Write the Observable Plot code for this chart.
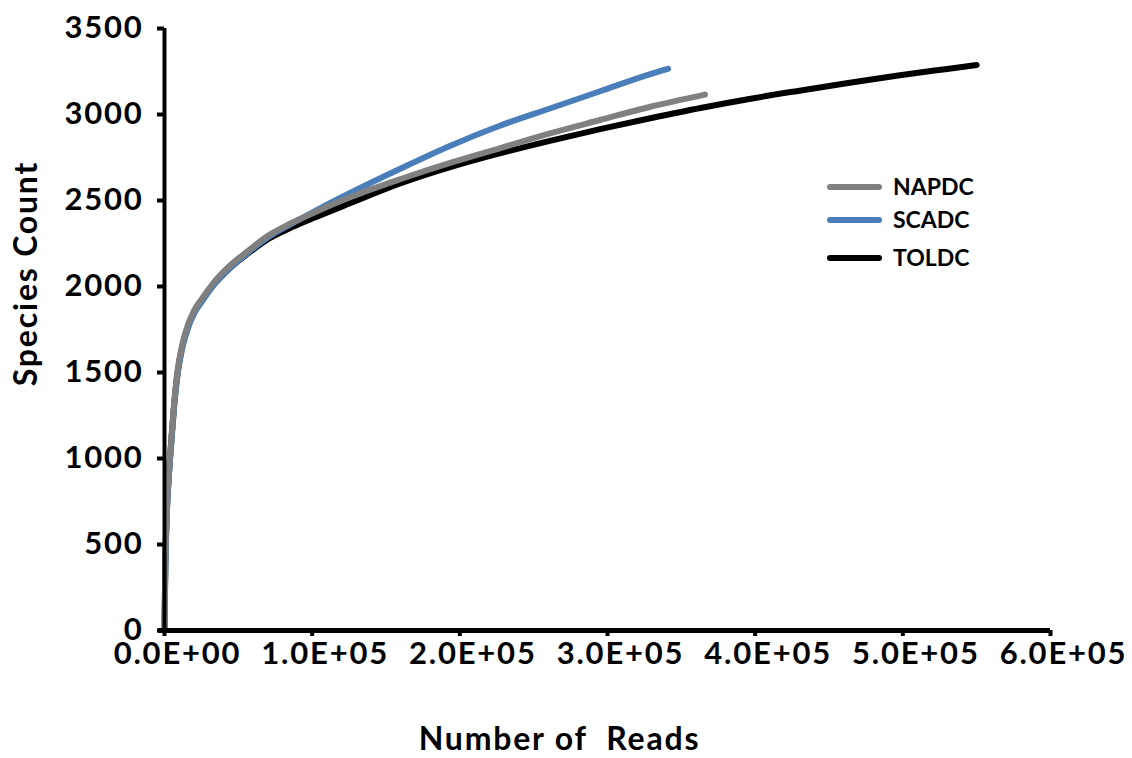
<!DOCTYPE html>
<html>
<head>
<meta charset="utf-8">
<script src="https://cdn.jsdelivr.net/npm/d3@7"></script>
<script src="https://cdn.jsdelivr.net/npm/@observablehq/plot@0.6"></script>
<style>
  html, body { margin: 0; padding: 0; background: #fff; }
  #wrap { position: relative; width: 1132px; height: 758px; font-family: Lato, "Open Sans", sans-serif; }
  svg text { white-space: pre; letter-spacing: 1.8px; }
  .leg { position: absolute; left: 0; top: 0; }
  .leg .row { position: absolute; left: 827px; height: 24px; }
  .leg .sw { position: absolute; left: 0; top: 9px; width: 55px; height: 6px; border-radius: 3px; }
  .leg .lb { position: absolute; left: 66px; top: -1px; font-size: 23px; font-weight: 700; line-height: 24px; color: #000; white-space: nowrap; }
</style>
</head>
<body>
<div id="wrap"></div>
<script>
// ---- data ----
const seriesNames = ["NAPDC", "SCADC", "TOLDC"];
const seriesColors = ["#808080", "#4a7ebb", "#000000"];

const napdcReads   = [0, 500, 1500, 3000, 4500, 6500, 9000, 12000, 16000, 20000, 25000, 34000, 43500, 57000, 70000, 85000, 100000, 126000, 160000, 194000, 227500, 261000, 295000, 329000, 366000];
const napdcSpecies = [0, 350, 680, 920, 1100, 1320, 1520, 1660, 1780, 1860, 1925, 2030, 2115, 2210, 2295, 2365, 2425, 2520, 2625, 2720, 2805, 2890, 2968, 3045, 3116];

const scadcReads   = [0, 500, 1500, 3000, 4500, 6500, 9000, 12000, 16000, 20000, 25000, 34000, 43500, 57000, 70000, 85000, 100000, 126000, 160000, 194000, 227500, 261000, 295000, 329000, 341000];
const scadcSpecies = [0, 330, 655, 895, 1075, 1295, 1495, 1638, 1760, 1842, 1908, 2015, 2100, 2200, 2285, 2360, 2430, 2545, 2686, 2820, 2936, 3035, 3135, 3235, 3265];

const toldcReads   = [0, 500, 1500, 3000, 4500, 6500, 9000, 12000, 16000, 20000, 25000, 34000, 43500, 57000, 70000, 85000, 100000, 126000, 160000, 194000, 227500, 261000, 295000, 329000, 363000, 397000, 431000, 464000, 498000, 530000, 550000];
const toldcSpecies = [0, 345, 672, 910, 1090, 1310, 1510, 1650, 1770, 1850, 1915, 2018, 2102, 2195, 2275, 2340, 2395, 2485, 2600, 2695, 2775, 2847, 2915, 2978, 3038, 3092, 3140, 3185, 3228, 3265, 3288];

const xTicks = [0, 100000, 200000, 300000, 400000, 500000, 600000];
const xTickLabels = ["0.0E+00", "1.0E+05", "2.0E+05", "3.0E+05", "4.0E+05", "5.0E+05", "6.0E+05"];
const yTicks = [0, 500, 1000, 1500, 2000, 2500, 3000, 3500];

const xTitle = "Number of  Reads";
const yTitle = "Species Count";

// ---- build tables ----
const mk = (name, xs, ys) => xs.map((x, i) => ({series: name, reads: x, species: ys[i]}));
const napdc = mk("NAPDC", napdcReads, napdcSpecies);
const scadc = mk("SCADC", scadcReads, scadcSpecies);
const toldc = mk("TOLDC", toldcReads, toldcSpecies);
const xTickRows = xTicks.map((v, i) => ({v, label: xTickLabels[i]}));

const lineOpts = (color) => ({x: "reads", y: "species", stroke: color, strokeWidth: 6, curve: "monotone-x", strokeLinecap: "round", strokeLinejoin: "round"});

const chart = Plot.plot({
  width: 1132,
  height: 758,
  marginLeft: 164,
  marginRight: 82,
  marginTop: 28,
  marginBottom: 128,
  style: {fontFamily: "Lato, 'Open Sans', sans-serif", fontWeight: "700", color: "#000", background: "#fff", overflow: "visible"},
  x: {domain: [0, 600000]},
  y: {domain: [0, 3500]},
  marks: [
    Plot.line(toldc, lineOpts(seriesColors[2])),
    Plot.line(scadc, lineOpts(seriesColors[1])),
    Plot.line(napdc, lineOpts(seriesColors[0])),
    Plot.ruleY([0], {strokeWidth: 5, stroke: "#000", x1: -4000, x2: 600000}),
    Plot.ruleX([0], {strokeWidth: 4, stroke: "#000"}),
    Plot.axisX({ticks: xTicks, tickSize: 6, strokeWidth: 4, text: null, label: null}),
    Plot.text(xTickRows, {x: "v", text: "label", frameAnchor: "bottom", lineAnchor: "top", textAnchor: "middle", dy: 11, dx: 13, fontSize: 31, fontWeight: 700, fill: "#000"}),
    Plot.axisY({ticks: yTicks, tickSize: 7, tickPadding: 14, strokeWidth: 4, tickFormat: d => String(d), fontSize: 31, fontWeight: 700, label: null}),
    Plot.text([yTitle], {frameAnchor: "left", textAnchor: "middle", lineAnchor: "middle", dx: -138, dy: -56, rotate: -90, fontSize: 32, fontWeight: 700, fill: "#000", text: d => d}),
    Plot.text([xTitle], {frameAnchor: "bottom", textAnchor: "middle", lineAnchor: "middle", dx: -48, dy: 109, fontSize: 32, fontWeight: 700, fill: "#000", text: d => d})
  ]
});

const wrap = document.getElementById("wrap");
wrap.appendChild(chart);

// legend overlay
const legTops = [175, 208, 246];
const leg = document.createElement("div");
leg.className = "leg";
seriesNames.forEach((n, i) => {
  const row = document.createElement("div");
  row.className = "row";
  row.style.top = legTops[i] + "px";
  const sw = document.createElement("div");
  sw.className = "sw";
  sw.style.background = seriesColors[i];
  const lb = document.createElement("div");
  lb.className = "lb";
  lb.textContent = n;
  row.appendChild(sw);
  row.appendChild(lb);
  leg.appendChild(row);
});
wrap.appendChild(leg);
</script>
</body>
</html>
